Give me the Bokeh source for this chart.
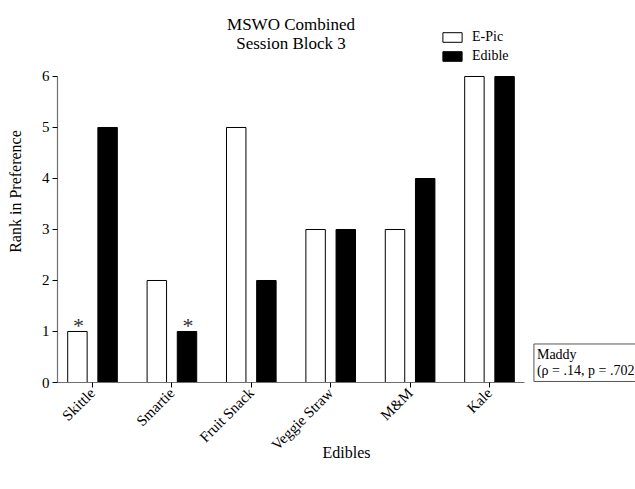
import math
from bokeh.plotting import figure
from bokeh.models import ColumnDataSource, Range1d, FixedTicker, Legend, LegendItem, Label
from bokeh.transform import dodge
from bokeh.core.properties import value
from bokeh.embed import file_html
from bokeh.resources import INLINE

categories = ["Skittle", "Smartie", "Fruit Snack", "Veggie Straw", "M&M", "Kale"]
epic_rank = [1, 2, 5, 3, 3, 6]
edible_rank = [5, 1, 2, 3, 4, 6]
epic_marks = ["*", "", "", "", "", ""]
edible_marks = ["", "*", "", "", "", ""]
y_ticks = [0, 1, 2, 3, 4, 5, 6]
title_lines = ["MSWO Combined", "Session Block 3"]
note_text = "Maddy\n(\u03c1 = .14, p = .702)"
series_names = ["E-Pic", "Edible"]

FONT = "Liberation Serif"
xs = list(range(len(categories)))
src = ColumnDataSource(dict(x=xs, epic=epic_rank, edible=edible_rank,
                            epic_m=epic_marks, edible_m=edible_marks))

p = figure(width=635, height=489, output_backend="svg", toolbar_location=None,
           x_range=Range1d(-0.441, 6.839), y_range=Range1d(0, 7.49),
           min_border_left=57, min_border_right=0, min_border_top=0,
           min_border_bottom=107, outline_line_color=None)
p.xgrid.visible = False
p.ygrid.visible = False

OFF = 0.19
W = 0.245
r1 = p.vbar(x=dodge('x', -OFF), top='epic', width=W, source=src,
            fill_color="white", line_color="black", line_width=1)
r2 = p.vbar(x=dodge('x', OFF), top='edible', width=W, source=src,
            fill_color="black", line_color="black", line_width=1)

for col, off in (("epic", -OFF), ("edible", OFF)):
    p.text(x=dodge('x', off), y=col, text=col + "_m", source=src,
           text_font=value(FONT), text_font_size="22px", text_align="center",
           text_baseline="alphabetic", y_offset=-6, x_offset=1,
           text_color="#333333")

# axes
xa = p.xaxis[0]
xa.ticker = FixedTicker(ticks=xs)
xa.major_label_overrides = {i: c for i, c in enumerate(categories)}
xa.major_label_orientation = math.pi / 4
xa.bounds = (-0.441, 5.441)
xa.axis_label = "Edibles"
xa.axis_label_standoff = -18

ya = p.yaxis[0]
ya.ticker = FixedTicker(ticks=y_ticks)
ya.bounds = (0, 6)
ya.axis_label = "Rank in Preference"
ya.axis_label_standoff = 15

for ax in (xa, ya):
    ax.axis_line_color = "#707070"
    ax.axis_line_width = 1.2
    ax.major_tick_line_color = "black"
    ax.major_tick_out = 5
    ax.major_tick_in = 0
    ax.minor_tick_line_color = None
    ax.major_label_text_font = FONT
    ax.major_label_text_font_size = "15px"
    ax.major_label_text_color = "black"
    ax.major_label_standoff = 3
    ax.axis_label_text_font = FONT
    ax.axis_label_text_font_size = "16px"
    ax.axis_label_text_font_style = "normal"
    ax.axis_label_text_color = "black"

# title (two lines, as text glyphs)
tsrc = ColumnDataSource(dict(x=[2.5, 2.5], y=[7.49, 7.49], t=title_lines,
                             dy=[24, 43]))
p.text(x='x', y='y', text='t', source=tsrc, y_offset='dy',
       text_font=value(FONT), text_font_size="17px", text_align="center",
       text_baseline="alphabetic", text_color="black")

# note box
p.add_layout(Label(x=5.56, y=0.02, text=note_text, text_font=FONT,
                   text_font_size="14px", text_align="left",
                   text_baseline="bottom", text_color="black",
                   text_line_height=1.1,
                   padding=3, border_line_color="#555555",
                   border_line_width=1, background_fill_color="white"))

legend = Legend(items=[LegendItem(label=series_names[0], renderers=[r1]),
                       LegendItem(label=series_names[1], renderers=[r2])],
                location=(383, 318), orientation="vertical",
                glyph_width=24, glyph_height=12, label_height=12,
                label_standoff=8, spacing=3, padding=0, margin=0,
                border_line_color=None, background_fill_alpha=0,
                label_text_font="'Liberation Serif', serif",
                label_text_font_size="14px",
                label_text_color="black")
p.add_layout(legend)

open("out.html", "w").write(file_html(p, INLINE))
